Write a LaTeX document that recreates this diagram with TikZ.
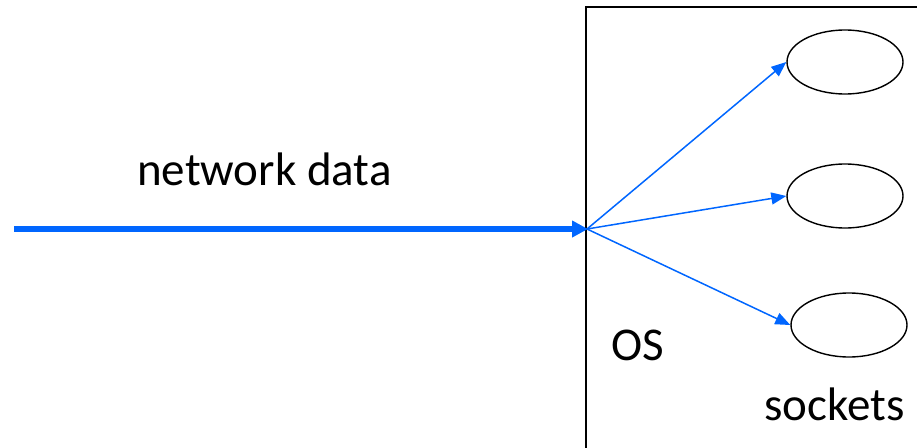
\documentclass[tikz,border=0pt]{standalone}
\usepackage{fontspec}
\setmainfont{Carlito}
\usetikzlibrary{arrows.meta,shapes.geometric}
\definecolor{netblue}{RGB}{0,102,255}
\begin{document}
\begin{tikzpicture}[x=1pt,y=-1pt,
  sock/.style={draw=black,line width=1.4pt,ellipse,minimum width=116pt,minimum height=64pt,inner sep=0pt},
  thin arrow/.style={draw=netblue,line width=1.5pt,-{Triangle[length=15pt,width=12pt]}},
  thick arrow/.style={draw=netblue,line width=5.5pt,-{Triangle[length=16pt,width=16pt]},shorten >=-1pt},
  lbl/.style={anchor=base west,inner sep=0pt,font=\fontsize{47}{56}\selectfont}]
\useasboundingbox (0,0) rectangle (917,447);
\draw[line width=1.4pt] (586,460) -- (586,7) -- (930,7);
\node[sock] (s1) at (845,62) {};
\node[sock] (s2) at (845,196) {};
\node[sock] (s3) at (849,325) {};
\coordinate (hub) at (587,229);
\coordinate (src) at (14,229);
\draw[thick arrow] (src) -- (hub);
\draw[thin arrow] (hub) -- (s1.west);
\draw[thin arrow] (hub) -- (s2.west);
\draw[thin arrow] (hub) -- (s3.west);
\node[lbl] (nd) at (137,185) {network data};
\node[lbl] (os) at (611,360) {OS};
\node[lbl] (sk) at (764,420) {sockets};
\end{tikzpicture}
\end{document}
